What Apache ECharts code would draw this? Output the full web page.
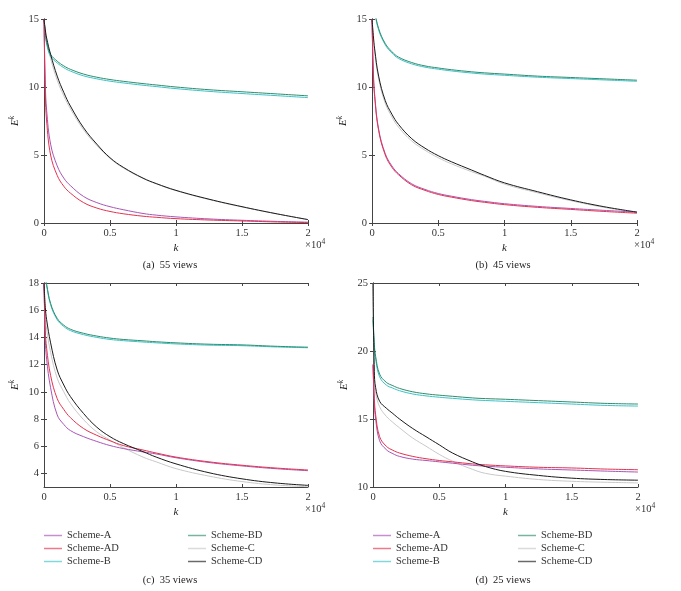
<!DOCTYPE html>
<html>
<head>
<meta charset="utf-8">
<script src="https://cdn.jsdelivr.net/npm/echarts@6/dist/echarts.min.js"></script>
<style>
  html, body { margin: 0; padding: 0; background: #ffffff; }
  #chart { width: 681px; height: 591px; }
</style>
</head>
<body>
<div id="chart"></div>
<script>
// k in units of 10^4
const kValues = [0, 0.01, 0.02, 0.05, 0.1, 0.15, 0.2, 0.3, 0.4, 0.5, 0.6, 0.75, 0.85, 1.0, 1.25, 1.5, 1.75, 2.0]
const xTicks = [0, 0.5, 1, 1.5, 2]

const schemeNames = ['Scheme-A', 'Scheme-AD', 'Scheme-B', 'Scheme-BD', 'Scheme-C', 'Scheme-CD']
const schemeColors = ['#a855b5', '#e2334f', '#3ec2c8', '#2e8d6e', '#c8c8c8', '#1a1a1a']

// (a) 55 views
const yTicks55 = [0, 5, 10, 15]
const a55 = [15, 10.2, 8.3, 5.8, 4.2, 3.3, 2.75, 1.95, 1.5, 1.2, 0.98, 0.7, 0.58, 0.45, 0.3, 0.2, 0.12, 0.06]
const ad55 = [15, 9.5, 7.5, 5.0, 3.5, 2.7, 2.2, 1.5, 1.1, 0.85, 0.68, 0.5, 0.42, 0.32, 0.22, 0.15, 0.08, 0.03]
const b55 = [14.9, 13.85, 13.15, 12.25, 11.77, 11.42, 11.17, 10.82, 10.6, 10.43, 10.3, 10.13, 10.03, 9.88, 9.68, 9.52, 9.37, 9.22]
const bd55 = [15, 14.0, 13.3, 12.4, 11.9, 11.55, 11.3, 10.95, 10.72, 10.55, 10.42, 10.25, 10.15, 10.0, 9.8, 9.65, 9.5, 9.35]
const c55 = [15, 14.0, 13.4, 12.1, 10.5, 9.35, 8.4, 6.85, 5.7, 4.75, 4.05, 3.28, 2.88, 2.38, 1.73, 1.18, 0.7, 0.25]
const cd55 = [15, 14.2, 13.6, 12.4, 10.8, 9.6, 8.6, 7.0, 5.8, 4.8, 4.1, 3.3, 2.9, 2.4, 1.75, 1.2, 0.7, 0.25]

// (b) 45 views
const yTicks45 = [0, 5, 10, 15]
const a45 = [15, 11.2, 9.45, 6.9, 5.1, 4.2, 3.63, 2.88, 2.47, 2.17, 1.97, 1.72, 1.59, 1.42, 1.22, 1.07, 0.93, 0.8]
const ad45 = [15, 11.0, 9.3, 6.8, 5.0, 4.1, 3.55, 2.8, 2.4, 2.1, 1.9, 1.65, 1.52, 1.35, 1.15, 1.0, 0.85, 0.72]
const b45 = [16.9, 16.1, 15.5, 14.2, 13.1, 12.5, 12.1, 11.7, 11.46, 11.31, 11.18, 11.03, 10.95, 10.86, 10.72, 10.62, 10.52, 10.42]
const bd45 = [17, 16.2, 15.6, 14.3, 13.2, 12.6, 12.2, 11.8, 11.55, 11.4, 11.27, 11.12, 11.04, 10.95, 10.8, 10.7, 10.6, 10.5]
const c45 = [15, 13.6, 12.6, 10.6, 8.8, 7.8, 7.05, 6.03, 5.35, 4.8, 4.35, 3.78, 3.44, 2.86, 2.22, 1.64, 1.15, 0.76]
const cd45 = [15, 13.8, 12.8, 10.8, 9.0, 8.0, 7.25, 6.2, 5.5, 4.95, 4.5, 3.9, 3.5, 2.95, 2.3, 1.7, 1.2, 0.8]

// (c) 35 views
const yTicks35 = [4, 6, 8, 10, 12, 14, 16, 18]
const a35 = [18, 13.8, 12.4, 10.3, 8.3, 7.6, 7.15, 6.7, 6.35, 6.05, 5.83, 5.58, 5.43, 5.15, 4.8, 4.55, 4.35, 4.2]
const ad35 = [18, 14.5, 13.2, 11.2, 9.5, 8.7, 8.1, 7.3, 6.8, 6.4, 6.05, 5.72, 5.5, 5.2, 4.85, 4.6, 4.4, 4.25]
const b35 = [18.9, 18.4, 17.8, 16.4, 15.3, 14.8, 14.5, 14.2, 14.0, 13.85, 13.76, 13.66, 13.6, 13.52, 13.43, 13.39, 13.3, 13.24]
const bd35 = [19, 18.5, 17.9, 16.5, 15.4, 14.9, 14.6, 14.3, 14.1, 13.95, 13.85, 13.75, 13.68, 13.6, 13.5, 13.45, 13.35, 13.28]
const c35 = [18, 15.6, 14.6, 12.9, 11.0, 10.0, 9.15, 7.95, 7.05, 6.45, 5.9, 5.2, 4.85, 4.35, 3.8, 3.4, 3.15, 3.02]
const cd35 = [18, 16.2, 15.3, 13.6, 11.6, 10.5, 9.65, 8.4, 7.4, 6.7, 6.2, 5.6, 5.2, 4.7, 4.05, 3.6, 3.3, 3.12]

// (d) 25 views
const yTicks25 = [10, 15, 20, 25]
const a25 = [19, 16.2, 15.0, 13.4, 12.75, 12.45, 12.25, 12.05, 11.95, 11.85, 11.75, 11.6, 11.53, 11.45, 11.33, 11.25, 11.17, 11.1]
const ad25 = [19, 16.5, 15.3, 13.7, 13.0, 12.7, 12.5, 12.25, 12.08, 11.95, 11.85, 11.7, 11.63, 11.55, 11.45, 11.4, 11.32, 11.27]
const b25 = [22.3, 20.3, 19.4, 18.1, 17.5, 17.27, 17.08, 16.84, 16.7, 16.6, 16.52, 16.41, 16.36, 16.3, 16.2, 16.1, 16.0, 15.95]
const bd25 = [22.5, 20.5, 19.6, 18.3, 17.7, 17.45, 17.25, 17.0, 16.85, 16.75, 16.67, 16.55, 16.5, 16.45, 16.35, 16.25, 16.15, 16.1]
const c25 = [25, 17.8, 16.9, 15.9, 15.2, 14.75, 14.35, 13.6, 13.0, 12.4, 11.9, 11.3, 11.0, 10.8, 10.55, 10.42, 10.35, 10.3]
const cd25 = [25, 18.5, 17.3, 16.3, 15.8, 15.4, 15.0, 14.3, 13.7, 13.1, 12.5, 11.85, 11.5, 11.15, 10.85, 10.65, 10.55, 10.5]

const panels = [
  { caption: '(a)  55 views', yTicks: yTicks55, yMin: 0, yMax: 15, data: [a55, ad55, b55, bd55, c55, cd55],
    grid: { left: 44, top: 19, width: 264, height: 204 }, capX: 170, capY: 265 },
  { caption: '(b)  45 views', yTicks: yTicks45, yMin: 0, yMax: 15, data: [a45, ad45, b45, bd45, c45, cd45],
    grid: { left: 372, top: 19, width: 265, height: 204 }, capX: 503, capY: 265 },
  { caption: '(c)  35 views', yTicks: yTicks35, yMin: 3, yMax: 18, data: [a35, ad35, b35, bd35, c35, cd35],
    grid: { left: 44, top: 283, width: 264, height: 204 }, capX: 170, capY: 580 },
  { caption: '(d)  25 views', yTicks: yTicks25, yMin: 10, yMax: 25, data: [a25, ad25, b25, bd25, c25, cd25],
    grid: { left: 373, top: 283, width: 265, height: 204 }, capX: 503, capY: 580 }
]

const FONT = 'Liberation Serif'
const FS = 10.5
const axisColor = '#444'

const chart = echarts.init(document.getElementById('chart'))

const grids = []
const xAxes = []
const yAxes = []
const series = []
const graphics = []

panels.forEach((p, i) => {
  grids.push(p.grid)
  // bottom / left axes with labels
  xAxes.push({
    gridIndex: i, type: 'value', min: 0, max: 2, interval: 0.5, position: 'bottom',
    name: 'k', nameLocation: 'middle', nameGap: 20,
    nameTextStyle: { fontFamily: FONT, fontSize: 11, fontStyle: 'italic', color: '#222' },
    axisLine: { lineStyle: { color: axisColor, width: 1 } },
    axisTick: { inside: true, length: 3, lineStyle: { color: axisColor }, customValues: xTicks },
    axisLabel: { fontFamily: FONT, fontSize: FS, color: '#333', margin: 5, customValues: xTicks },
    splitLine: { show: false }
  })
  yAxes.push({
    gridIndex: i, type: 'value', min: p.yMin, max: p.yMax, position: 'left',
    name: '{e|E}{s|k}', nameLocation: 'middle', nameGap: 22, nameRotate: 90,
    nameTextStyle: {
      fontFamily: FONT, color: '#222',
      rich: {
        e: { fontFamily: FONT, fontSize: 11, fontStyle: 'italic', color: '#222' },
        s: { fontFamily: FONT, fontSize: 7.5, fontStyle: 'italic', color: '#222', padding: [0, 0, 6, 0] }
      }
    },
    axisLine: { lineStyle: { color: axisColor, width: 1 } },
    axisTick: { inside: true, length: 3, lineStyle: { color: axisColor }, customValues: p.yTicks },
    axisLabel: { fontFamily: FONT, fontSize: FS, color: '#333', margin: 5, customValues: p.yTicks },
    splitLine: { show: false }
  })
})

// mirror axes (top / right) for the closed box
panels.forEach((p, i) => {
  xAxes.push({
    gridIndex: i, type: 'value', min: 0, max: 2, interval: 0.5, position: 'top',
    axisLine: { lineStyle: { color: axisColor, width: 1 } },
    axisTick: { inside: true, length: 3, lineStyle: { color: axisColor }, customValues: xTicks },
    axisLabel: { show: false },
    splitLine: { show: false }
  })
  yAxes.push({
    gridIndex: i, type: 'value', min: p.yMin, max: p.yMax, position: 'right',
    axisLine: { lineStyle: { color: axisColor, width: 1 } },
    axisTick: { inside: true, length: 3, lineStyle: { color: axisColor }, customValues: p.yTicks },
    axisLabel: { show: false },
    splitLine: { show: false }
  })
})

// draw gray first so the others sit on top of it
const drawOrder = [4, 2, 3, 0, 1, 5]
panels.forEach((p, i) => {
  drawOrder.forEach(s => {
    series.push({
      name: schemeNames[s],
      type: 'line',
      xAxisIndex: i,
      yAxisIndex: i,
      symbol: 'none',
      smooth: 0.4,
      clip: true,
      silent: true,
      color: schemeColors[s],
      lineStyle: { color: schemeColors[s], width: 1 },
      data: kValues.map((k, j) => [k, p.data[s][j]])
    })
  })

  const g = p.grid
  // x10^4 multiplier below the right end of the x axis
  graphics.push({
    type: 'text',
    left: g.left + g.width - 3,
    top: g.top + g.height + 15,
    style: {
      text: '×10{s|4}',
      fontFamily: FONT, fontSize: FS, fill: '#333',
      rich: { s: { fontFamily: FONT, fontSize: 7.5, fill: '#333', padding: [0, 0, 6, 0] } }
    }
  })
  // panel caption
  graphics.push({
    type: 'text',
    x: p.capX,
    y: p.capY,
    style: {
      text: p.caption, fontFamily: FONT, fontSize: FS, fill: '#222',
      align: 'center', verticalAlign: 'middle'
    }
  })
})

const legendBase = {
  orient: 'vertical',
  icon: 'rect',
  itemWidth: 18,
  itemHeight: 1.5,
  itemGap: 0,
  padding: 0,
  selectedMode: false,
  itemStyle: { opacity: 0.65 },
  textStyle: { fontFamily: FONT, fontSize: FS, color: '#333', lineHeight: 13 }
}
const legends = [
  { left: 44, data: schemeNames.slice(0, 3) },
  { left: 188, data: schemeNames.slice(3) },
  { left: 373, data: schemeNames.slice(0, 3) },
  { left: 518, data: schemeNames.slice(3) }
].map(l => Object.assign({}, legendBase, { top: 529, left: l.left, data: l.data }))

const option = {
  backgroundColor: '#ffffff',
  animation: false,
  grid: grids,
  xAxis: xAxes,
  yAxis: yAxes,
  legend: legends,
  series: series,
  graphic: graphics
}

chart.setOption(option)
</script>
</body>
</html>
